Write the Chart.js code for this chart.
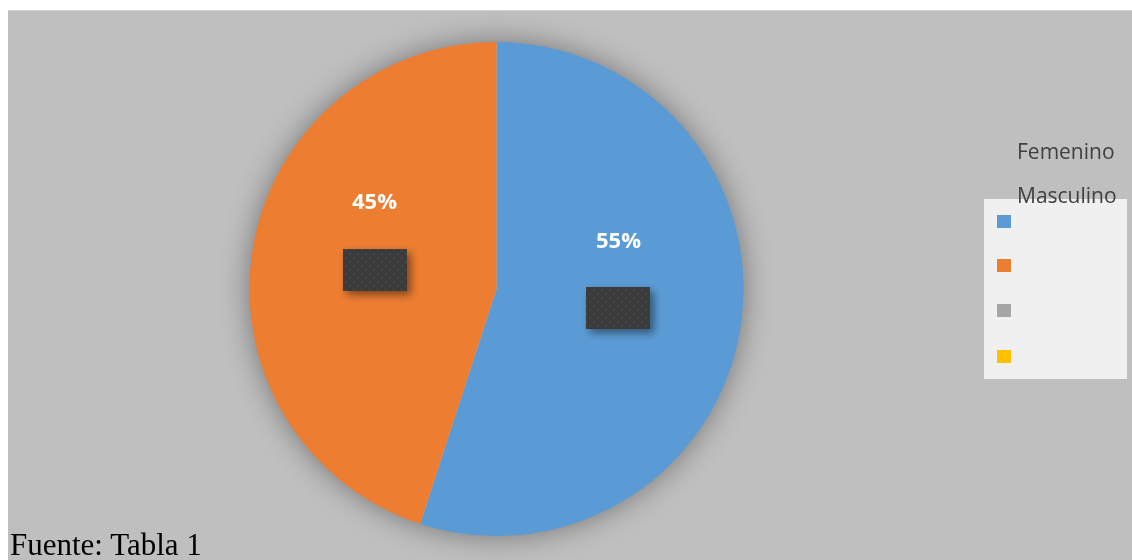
<!DOCTYPE html>
<html>
<head>
<meta charset="utf-8">
<script src="https://cdn.jsdelivr.net/npm/chart.js@4"></script>
<style>
  html, body { margin: 0; padding: 0; background: #fff; }
  #wrap { position: relative; width: 1132px; height: 560px; overflow: hidden; }
  #chart { position: absolute; left: 0; top: 0; }
  #source {
    position: absolute; left: 10px; top: 527px;
    font-family: 'Liberation Serif', 'Times New Roman', serif;
    font-size: 31px; color: #000; line-height: 36px; white-space: nowrap;
  }
</style>
</head>
<body>
<div id="wrap">
  <canvas id="chart" width="1132" height="560"></canvas>
  <div id="source">Fuente: Tabla 1</div>
</div>
<script>
const categories = ['Femenino', 'Masculino', '', ''];
const values = [55, 45, 0, 0];
const percentLabels = ['55%', '45%', '', ''];
const sliceColors = ['#5b9bd5', '#ed7d31', '#a5a5a5', '#ffc000'];

// small dark dotted tile used for the boxes under each label
function makeTile() {
  const c = document.createElement('canvas');
  c.width = 8; c.height = 8;
  const t = c.getContext('2d');
  t.fillStyle = '#3b3b3b';
  t.fillRect(0, 0, 8, 8);
  t.fillStyle = '#474747';
  t.fillRect(1, 1, 2, 2);
  t.fillRect(5, 5, 2, 2);
  return c;
}

const backdrop = {
  id: 'backdrop',
  beforeDraw(chart) {
    const ctx = chart.ctx;
    ctx.save();
    ctx.fillStyle = '#ffffff';
    ctx.fillRect(0, 0, chart.width, chart.height);
    ctx.fillStyle = '#bfbfbf';
    ctx.fillRect(8, 10, chart.width - 8, chart.height - 10);
    ctx.fillStyle = '#d4d4d4';
    ctx.fillRect(8, 10, chart.width - 8, 1);
    ctx.restore();
  },
  beforeDatasetsDraw(chart) {
    // soft shadow around the pie
    const arc = chart.getDatasetMeta(0).data[0];
    if (!arc) return;
    const ctx = chart.ctx;
    ctx.save();
    ctx.shadowColor = 'rgba(0,0,0,0.42)';
    ctx.shadowBlur = 30;
    ctx.fillStyle = '#bfbfbf';
    ctx.beginPath();
    ctx.arc(arc.x, arc.y, arc.outerRadius - 1, 0, Math.PI * 2);
    ctx.fill();
    ctx.restore();
  },
};

const sliceLabels = {
  id: 'sliceLabels',
  afterDatasetsDraw(chart) {
    const ctx = chart.ctx;
    const pattern = ctx.createPattern(makeTile(), 'repeat');
    chart.getDatasetMeta(0).data.forEach((arc, i) => {
      if (!values[i]) return;
      const p = arc.tooltipPosition();
      ctx.save();
      ctx.shadowColor = 'rgba(0,0,0,0.45)';
      ctx.shadowBlur = 8;
      ctx.shadowOffsetX = 4;
      ctx.shadowOffsetY = 4;
      ctx.fillStyle = pattern;
      ctx.fillRect(Math.round(p.x - 32), Math.round(p.y - 21), 64, 42);
      ctx.restore();

      ctx.save();
      ctx.fillStyle = '#ffffff';
      ctx.font = 'bold 22px "Open Sans", "Noto Sans", sans-serif';
      ctx.textAlign = 'center';
      ctx.textBaseline = 'middle';
      ctx.fillText(percentLabels[i], p.x, p.y - 67);
      ctx.restore();
    });
  },
};

const sideLegend = {
  id: 'sideLegend',
  afterDraw(chart) {
    const ctx = chart.ctx;
    ctx.save();
    ctx.fillStyle = '#f0f0f0';
    ctx.fillRect(984, 199, 143, 180);
    const swatchY = [215, 259, 304, 350];
    sliceColors.forEach((c, i) => {
      ctx.fillStyle = c;
      ctx.fillRect(997, swatchY[i], 14, 13);
    });
    ctx.fillStyle = '#404040';
    ctx.font = '21px "Open Sans", "Noto Sans", sans-serif';
    ctx.textBaseline = 'alphabetic';
    ctx.fillText(categories[0], 1017, 159);
    ctx.fillText(categories[1], 1017, 203);
    ctx.restore();
  },
};

new Chart(document.getElementById('chart'), {
  type: 'pie',
  data: {
    labels: categories,
    datasets: [{
      data: values,
      backgroundColor: sliceColors,
      borderWidth: 0,
    }],
  },
  options: {
    responsive: false,
    devicePixelRatio: 1,
    animation: false,
    layout: { padding: { left: 249, right: 388, top: 42, bottom: 24 } },
    plugins: {
      legend: { display: false },
      tooltip: { enabled: false },
    },
  },
  plugins: [backdrop, sliceLabels, sideLegend],
});
</script>
</body>
</html>
